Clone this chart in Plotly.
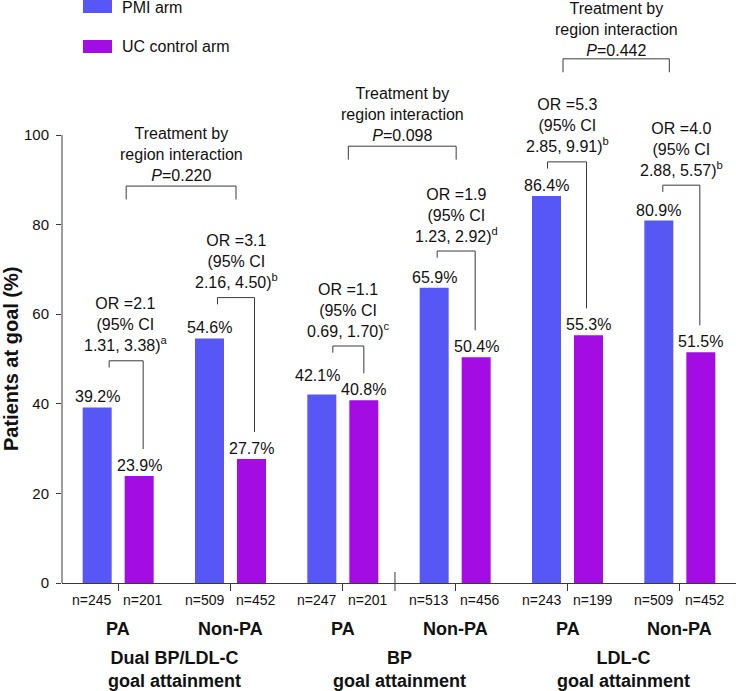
import plotly.graph_objects as go

# ---------------- data ----------------
subgroups = ["PA", "Non-PA", "PA", "Non-PA", "PA", "Non-PA"]
endpoints = ["Dual BP/LDL-C<br>goal attainment", "BP<br>goal attainment", "LDL-C<br>goal attainment"]
pmi_values = [39.2, 54.6, 42.1, 65.9, 86.4, 80.9]
uc_values = [23.9, 27.7, 40.8, 50.4, 55.3, 51.5]
pmi_n = [245, 509, 247, 513, 243, 509]
uc_n = [201, 452, 201, 456, 199, 452]
or_values = ["2.1", "3.1", "1.1", "1.9", "5.3", "4.0"]
ci_low = ["1.31", "2.16", "0.69", "1.23", "2.85", "2.88"]
ci_high = ["3.38", "4.50", "1.70", "2.92", "9.91", "5.57"]
footnotes = ["a", "b", "c", "d", "b", "b"]
interaction_p = ["0.220", "0.098", "0.442"]
y_ticks = [0, 20, 40, 60, 80, 100]
series_names = ["PMI arm", "UC control arm"]

# ---------------- layout constants ----------------
W, H = 736, 691
ML, MB = 62, 108
PX_X = (W - ML) / 6.0          # px per x unit
PX_Y = 4.48                    # px per y unit
PLOT_H = H - MB
Y_MAX = PLOT_H / PX_Y
OFF = 21 / PX_X
BAR_W = 29 / PX_X
PMI_COLOR = "#5757F6"
UC_COLOR = "#A30CE2"
LINE_COLOR = "#3a3a3a"
TEXT_COLOR = "#111111"
FONT = "Liberation Sans, Arial, sans-serif"

def px_x(px):
    return (px - ML) / (W - ML)

def px_y(px):
    return (PLOT_H - px) / PLOT_H

idx = list(range(len(subgroups)))
pmi_x = [i - OFF for i in idx]
uc_x = [i + OFF for i in idx]

fig = go.Figure()
fig.add_trace(go.Bar(x=pmi_x, y=pmi_values, width=BAR_W, name=series_names[0],
                     marker=dict(color=PMI_COLOR, line=dict(width=0)), showlegend=False))
fig.add_trace(go.Bar(x=uc_x, y=uc_values, width=BAR_W, name=series_names[1],
                     marker=dict(color=UC_COLOR, line=dict(width=0)), showlegend=False))

annotations = []
shapes = []

def txt(size=16):
    return dict(size=size, family=FONT, color=TEXT_COLOR)

# value labels
pmi_lab_shift = [0, 0, 8, 0, 0, 0]
pmi_lab_xshift = [0, 0, -4, 0, 0, 0]
for i in idx:
    annotations.append(dict(x=pmi_x[i], y=pmi_values[i], xref="x", yref="y", text=f"{pmi_values[i]:.1f}%",
                            showarrow=False, yanchor="bottom", yshift=pmi_lab_shift[i], xshift=pmi_lab_xshift[i],
                            font=txt()))
    annotations.append(dict(x=uc_x[i], y=uc_values[i], xref="x", yref="y", text=f"{uc_values[i]:.1f}%",
                            showarrow=False, yanchor="bottom", yshift=0, font=txt()))

# OR brackets
or_top = [49.6, 63.7, 52.9, 74.1, 94.0, 88.8]
left_off_px = [12, 8, 11, 3, 1, 4]
right_off_px = [4, 3, 0, -1, -2, -1]
or_mid = []
for i in idx:
    xl = pmi_x[i] + left_off_px[i] / PX_X
    xr = uc_x[i] + right_off_px[i] / PX_X
    top = or_top[i]
    shapes.append(dict(type="path", xref="x", yref="y",
                       path=f"M {xl},{top - 1.5} L {xl},{top} L {xr},{top} L {xr},{uc_values[i] + 6}",
                       line=dict(color=LINE_COLOR, width=1)))
    mid = (xl + xr) / 2
    or_mid.append(mid)
    annotations.append(dict(x=mid, y=top, xref="x", yref="y", showarrow=False, yanchor="middle", yshift=36,
                            text=f"OR ={or_values[i]}<br>(95% CI<br>{ci_low[i]}, {ci_high[i]})<sup>{footnotes[i]}</sup>",
                            font=txt()))

# treatment-by-region brackets
t_top = [88.6, 97.5, 117.0]
t_left_px = [0, 0, -4]
t_right_px = [0, 0, -12]
t_text_shift = [32, 32, 29.5]
for k in range(3):
    xl = or_mid[2 * k] + t_left_px[k] / PX_X
    xr = or_mid[2 * k + 1] + t_right_px[k] / PX_X
    top = t_top[k]
    shapes.append(dict(type="path", xref="x", yref="y",
                       path=f"M {xl},{top - 3} L {xl},{top} L {xr},{top} L {xr},{top - 3}",
                       line=dict(color=LINE_COLOR, width=1)))
    annotations.append(dict(x=(xl + xr) / 2, y=top, xref="x", yref="y", showarrow=False, yanchor="middle",
                            yshift=t_text_shift[k],
                            text=f"Treatment by<br>region interaction<br><i>P</i>={interaction_p[k]}",
                            font=txt()))

# y axis line (0-100 only)
shapes.append(dict(type="line", xref="paper", yref="y", x0=0, x1=0, y0=0, y1=y_ticks[-1],
                   line=dict(color=LINE_COLOR, width=1)))
# separator tick between BP subgroups
shapes.append(dict(type="line", xref="x", yref="paper", x0=2.464, x1=2.464,
                   y0=px_y(591), y1=px_y(572), line=dict(color=LINE_COLOR, width=1)))

# x labels
for i in idx:
    annotations.append(dict(x=pmi_x[i], y=0, xref="x", yref="paper", yanchor="middle", yshift=-17, xshift=-5,
                            text=f"n={pmi_n[i]}", showarrow=False, font=txt(14)))
    annotations.append(dict(x=uc_x[i], y=0, xref="x", yref="paper", yanchor="middle", yshift=-17, xshift=4,
                            text=f"n={uc_n[i]}", showarrow=False, font=txt(14)))
    annotations.append(dict(x=i, y=0, xref="x", yref="paper", yanchor="middle", yshift=-46,
                            text=f"<b>{subgroups[i]}</b>", showarrow=False, font=txt(18)))
for k in range(3):
    annotations.append(dict(x=2 * k + 0.5, y=0, xref="x", yref="paper", yanchor="middle", yshift=-86,
                            text=f"<b>{endpoints[k]}</b>", showarrow=False, font=txt(18)))

# y title
annotations.append(dict(x=px_x(11), y=50, xref="paper", yref="y", textangle=-90, showarrow=False,
                        xanchor="center", yanchor="middle", text="<b>Patients at goal (%)</b>",
                        font=txt(20)))

# legend (manual)
for name, color, top_px, bot_px, text_px in [(series_names[0], PMI_COLOR, -1, 13, 7.5),
                                             (series_names[1], UC_COLOR, 40, 53, 47)]:
    shapes.append(dict(type="rect", xref="paper", yref="paper", x0=px_x(83), x1=px_x(112),
                       y0=px_y(bot_px), y1=px_y(top_px), fillcolor=color, line=dict(width=0)))
    annotations.append(dict(x=px_x(120), y=px_y(text_px), xref="paper", yref="paper",
                            xanchor="left", yanchor="middle", text=name, showarrow=False, font=txt(16)))

fig.update_layout(
    width=W, height=H,
    margin=dict(l=ML, r=0, t=0, b=MB, pad=0),
    paper_bgcolor="white", plot_bgcolor="white",
    barmode="overlay",
    showlegend=False,
    font=dict(family=FONT, color=TEXT_COLOR),
    xaxis=dict(range=[-0.5, 5.5], showline=True, linecolor=LINE_COLOR, linewidth=1,
               ticks="outside", ticklen=7, tickcolor=LINE_COLOR, tickvals=idx, showticklabels=False,
               showgrid=False, zeroline=False, fixedrange=True),
    yaxis=dict(range=[0, Y_MAX], showline=False, ticks="outside", ticklen=5, tickcolor=LINE_COLOR,
               tickvals=y_ticks, tickfont=txt(15),
               ticklabelstandoff=4, showgrid=False, zeroline=False, fixedrange=True),
    annotations=annotations,
    shapes=shapes,
)

fig.write_html("out.html", config={"displayModeBar": False},
               post_script="document.body.style.margin='0';document.body.style.overflow='hidden';")
